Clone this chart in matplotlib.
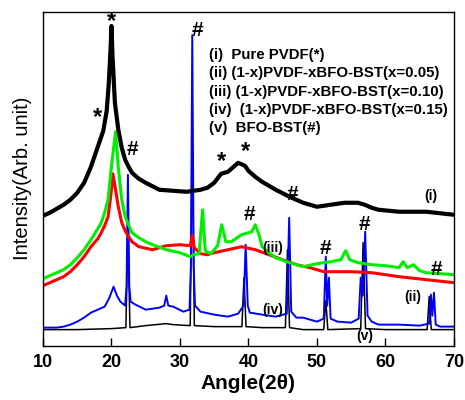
import matplotlib
matplotlib.use("Agg")
import matplotlib.pyplot as plt

plt.rcParams['font.family'] = ['Liberation Sans', 'DejaVu Sans']

# (i) Pure PVDF
pvdf_angle = [10, 11, 12, 13, 14, 15, 16, 17, 17.8, 18.3, 18.8, 19.3, 19.6, 19.85, 20.0, 20.15, 20.5, 21, 21.5, 22, 22.5, 23, 24, 25, 27, 29, 31, 33, 34, 35, 36, 37, 38.5, 39.5, 40, 41, 42, 44, 46, 48, 50, 52, 54, 56, 57, 58, 59, 62, 66, 70]
pvdf_int = [130, 133, 137, 141, 146, 153, 163, 179, 195, 205, 215, 235, 262, 295, 320, 290, 243, 216, 198, 186, 179, 173, 167, 163, 156, 155, 154, 156, 158, 163, 172, 174, 183, 180, 175, 169, 164, 156, 149, 143, 139, 141, 143, 143, 141, 138, 136, 134, 134, 131]

# (ii) x=0.05
x05_angle = [10, 11, 12, 13, 14, 15, 16, 17, 18, 18.5, 19.0, 19.5, 19.9, 20.2, 20.5, 21, 21.5, 22, 22.5, 23, 24, 26, 28, 30, 31.5, 31.8, 32.1, 33, 34, 35, 37, 39, 41, 43, 45, 47, 49, 51, 55, 58, 62, 66, 70]
x05_int = [60, 63, 66, 69, 74, 81, 89, 99, 107, 113, 120, 129, 150, 172, 160, 139, 123, 115, 109, 104, 99, 96, 100, 101, 100, 110, 98, 92, 91, 93, 96, 99, 96, 91, 86, 81, 78, 74, 74, 73, 69, 66, 63]

# (iii) x=0.10
x10_angle = [10, 11, 12, 13, 14, 15, 16, 17, 18, 18.5, 19, 19.5, 20.0, 20.6, 21.0, 21.5, 22, 23, 24, 25, 26, 28, 30, 31.5, 32, 32.8, 33.3, 33.7, 34.5, 35.5, 36.1, 36.7, 37.5, 39, 40.5, 41, 41.5, 42, 43, 44, 46, 48, 50, 52, 53.5, 54.2, 54.8, 56, 58, 60, 62, 62.6, 63.2, 64.1, 65, 66, 70]
x10_int = [67, 70, 73, 76, 81, 88, 96, 106, 117, 123, 133, 146, 180, 214, 178, 146, 129, 113, 108, 104, 101, 96, 93, 89, 91, 92, 136, 95, 92, 100, 121, 104, 104, 111, 114, 121, 112, 99, 93, 88, 83, 79, 82, 84, 86, 95, 86, 83, 81, 80, 78, 84, 78, 81, 75, 73, 71]

# (iv) x=0.15
x15_angle = [10, 12, 13, 14, 15, 16, 17, 18, 19, 19.7, 20.3, 20.8, 21.3, 22.0, 22.2, 22.4, 22.6, 22.8, 23.5, 25, 27, 27.7, 28.0, 28.3, 29, 30.5, 31.4, 31.6, 31.8, 32.0, 32.2, 33, 35, 37, 38.5, 39.3, 39.6, 39.9, 40.2, 42, 44, 45.6, 45.95, 46.25, 47, 48, 50, 51.0, 51.3, 51.5, 51.75, 52.0, 53, 55, 56.1, 56.4, 56.7, 57.05, 57.4, 58, 59, 62, 65, 66.4, 66.65, 66.85, 67.1, 67.35, 68, 70]
x15_int = [18, 18, 19, 21, 24, 28, 33, 36, 39, 48, 59, 50, 44, 40, 60, 171, 60, 44, 41, 36, 38, 40, 50, 40, 39, 34, 36, 80, 311, 80, 40, 34, 31, 29, 32, 40, 101, 40, 33, 31, 29, 32, 128, 34, 28, 28, 24, 27, 89, 40, 68, 27, 24, 23, 27, 68, 50, 114, 30, 24, 21, 21, 20, 22, 51, 30, 53, 21, 19, 19]

# (v) BFO-BST
bfo_angle = [10, 15, 20, 22.1, 22.4, 22.7, 25, 28, 29, 31.5, 31.8, 32.1, 35, 39.05, 39.35, 39.65, 42, 45.4, 45.7, 46.0, 48, 51.0, 51.3, 51.6, 56.4, 56.75, 57.1, 60, 66.1, 66.4, 66.7, 70]
bfo_int = [16, 16, 17, 18, 111, 18, 20, 22, 21, 20, 216, 20, 19, 19, 68, 19, 18, 18, 96, 18, 16, 16, 45, 16, 17, 103, 17, 16, 16, 49, 16, 16]

legend_lines = ["(i)  Pure PVDF(*)",
                "(ii) (1-x)PVDF-xBFO-BST(x=0.05)",
                "(iii) (1-x)PVDF-xBFO-BST(x=0.10)",
                "(iv)  (1-x)PVDF-xBFO-BST(x=0.15)",
                "(v)  BFO-BST(#)"]

fig = plt.figure(figsize=(4.65, 4.0), dpi=100)
ax = fig.add_axes([0.0925, 0.136, 0.8835, 0.834])

ax.plot(bfo_angle, bfo_int, color='black', lw=1.1)
ax.plot(x15_angle, x15_int, color='#0000ff', lw=1.4)
ax.plot(x05_angle, x05_int, color='#ff0000', lw=2.2)
ax.plot(x10_angle, x10_int, color='#00ee00', lw=2.2)
ax.plot(pvdf_angle, pvdf_int, color='black', lw=3.0)

ax.set_xlim(10, 70)
ax.set_ylim(0, 334)
ax.set_xticks([10, 20, 30, 40, 50, 60, 70])
ax.set_yticks([])
ax.tick_params(axis='x', direction='in', length=6, width=1, labelsize=13, pad=6)
for lab in ax.get_xticklabels():
    lab.set_fontweight('bold')
for s in ax.spines.values():
    s.set_linewidth(1.0)

ax.set_xlabel('Angle(2\u03b8)', fontsize=15, fontweight='bold', labelpad=2)
ax.set_ylabel('Intensity(Arb. unit)', fontsize=14.5, labelpad=8)

# legend text block (positions in figure pixels from top-left)
for i, t in enumerate(legend_lines):
    ax.text(209 / 100.0, (400 - (55 + 18.3 * i)) / 100.0, t, transform=fig.dpi_scale_trans,
            fontsize=10.8, fontweight='bold', va='center')

marks = [('*', 20.0, 324), ('*', 17.9, 228), ('#', 23.1, 196), ('#', 32.5, 315),
         ('*', 36.1, 184), ('*', 39.5, 194), ('#', 46.5, 151), ('#', 40.2, 131),
         ('#', 51.2, 97), ('#', 57.0, 121), ('#', 67.4, 76)]
for m, xa, yi in marks:
    ax.text(xa, yi, m, fontsize=17 if m == '*' else 15, fontweight='bold', ha='center', va='center')

curve_labels = [('(i)', 66.7, 150), ('(iii)', 43.6, 98), ('(iv)', 43.6, 36),
                ('(ii)', 64.0, 49), ('(v)', 57.0, 10)]
for t, xa, yi in curve_labels:
    ax.text(xa, yi, t, fontsize=10, fontweight='bold', ha='center', va='center')

fig.savefig('out.png', dpi=100)
